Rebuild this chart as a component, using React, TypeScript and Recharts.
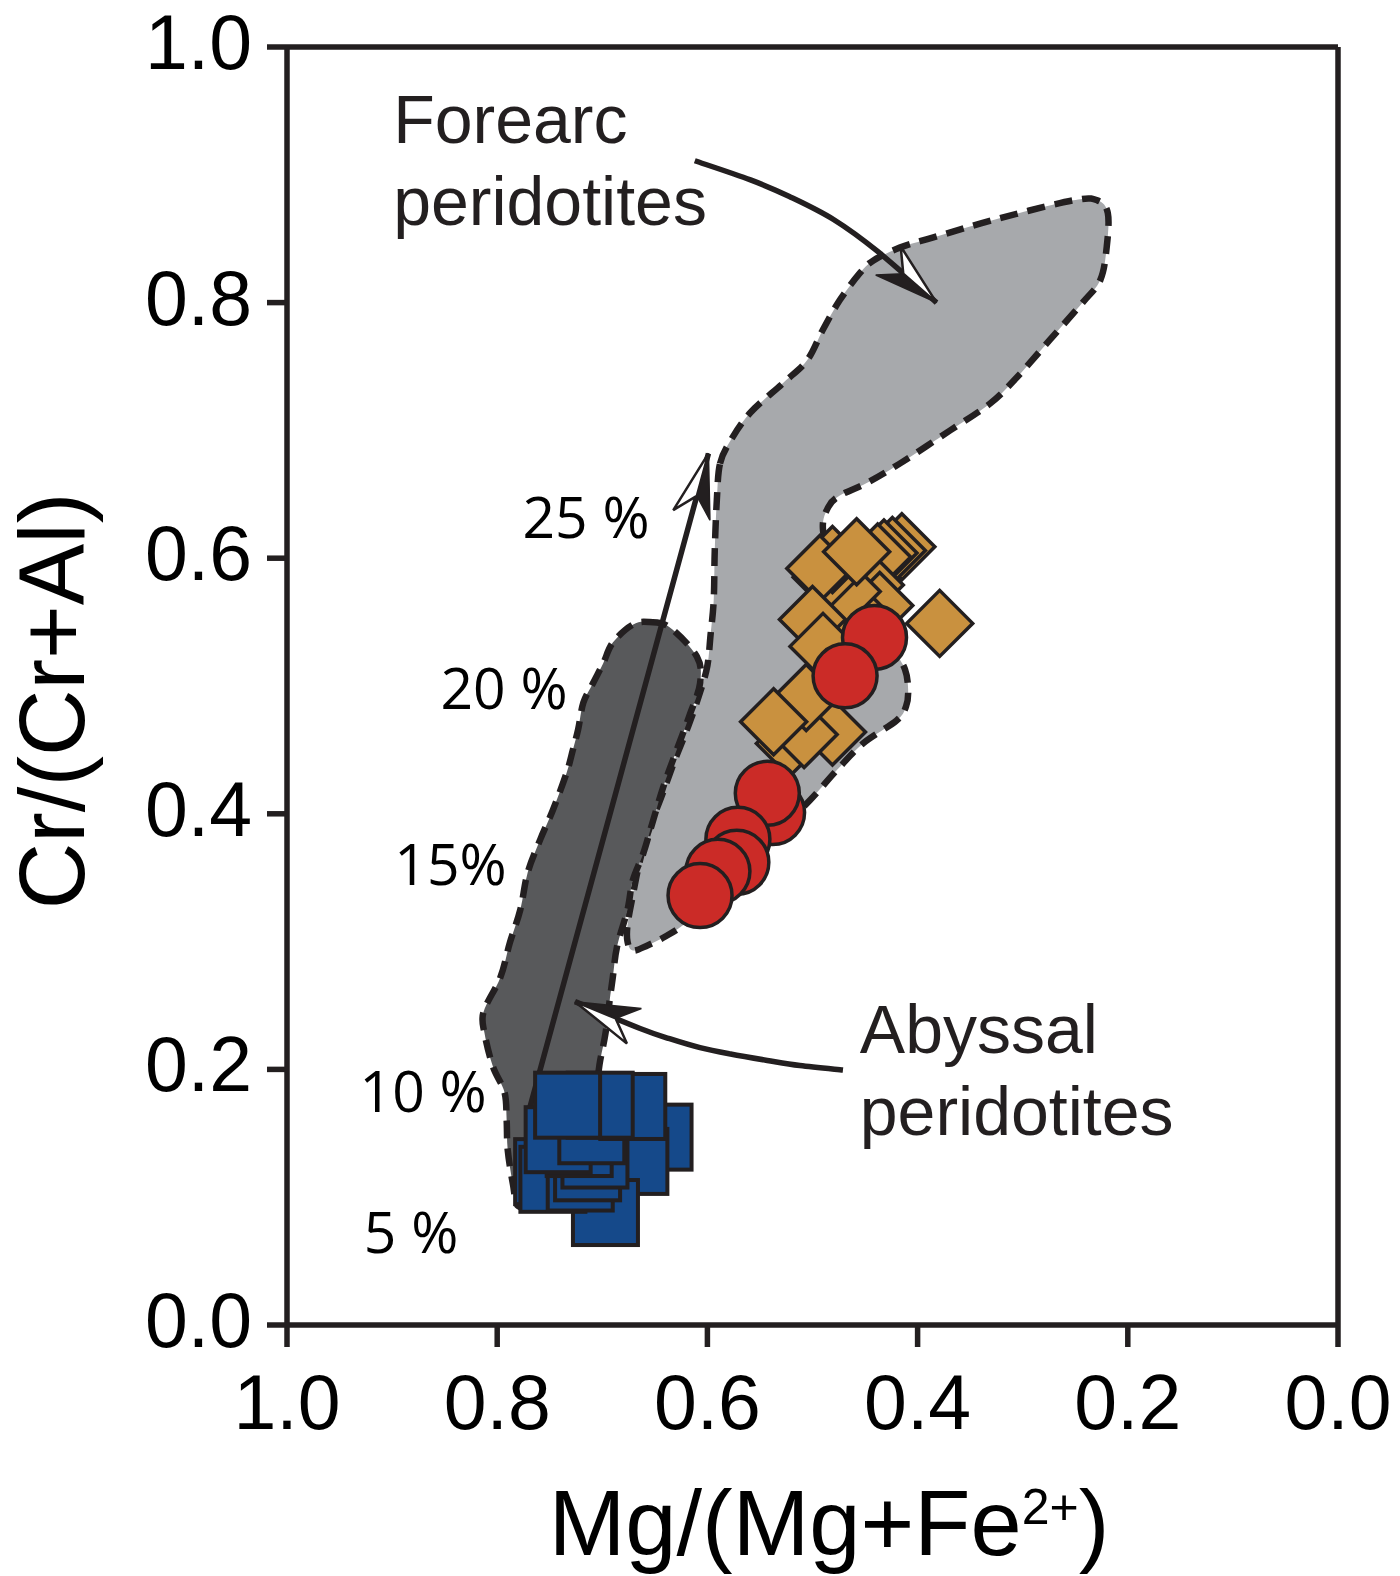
import React from 'react';
import { ScatterChart, Scatter, XAxis, YAxis, ReferenceLine } from 'recharts';

const INK = '#231f20';

const xTicks = [1.0, 0.8, 0.6, 0.4, 0.2, 0.0];
const yTicks = [0.0, 0.2, 0.4, 0.6, 0.8, 1.0];

const forearcField = [
  { x: 0.588, y: 0.674 }, { x: 0.578, y: 0.692 }, { x: 0.559, y: 0.714 }, { x: 0.528, y: 0.737 },
  { x: 0.505, y: 0.755 }, { x: 0.49, y: 0.779 }, { x: 0.474, y: 0.802 }, { x: 0.455, y: 0.823 },
  { x: 0.442, y: 0.833 }, { x: 0.417, y: 0.843 }, { x: 0.385, y: 0.851 }, { x: 0.322, y: 0.866 },
  { x: 0.252, y: 0.88 }, { x: 0.229, y: 0.88 }, { x: 0.219, y: 0.87 }, { x: 0.22, y: 0.844 },
  { x: 0.226, y: 0.818 }, { x: 0.243, y: 0.8 }, { x: 0.274, y: 0.771 }, { x: 0.305, y: 0.742 },
  { x: 0.331, y: 0.721 }, { x: 0.369, y: 0.7 }, { x: 0.417, y: 0.674 }, { x: 0.448, y: 0.659 },
  { x: 0.474, y: 0.649 }, { x: 0.485, y: 0.64 }, { x: 0.49, y: 0.622 }, { x: 0.479, y: 0.587 },
  { x: 0.445, y: 0.552 }, { x: 0.423, y: 0.528 }, { x: 0.412, y: 0.513 }, { x: 0.409, y: 0.497 },
  { x: 0.411, y: 0.484 }, { x: 0.42, y: 0.473 }, { x: 0.452, y: 0.455 }, { x: 0.477, y: 0.434 },
  { x: 0.502, y: 0.411 }, { x: 0.536, y: 0.383 }, { x: 0.569, y: 0.356 }, { x: 0.602, y: 0.329 },
  { x: 0.623, y: 0.313 }, { x: 0.64, y: 0.304 }, { x: 0.657, y: 0.297 }, { x: 0.671, y: 0.293 },
  { x: 0.676, y: 0.3 }, { x: 0.676, y: 0.313 }, { x: 0.671, y: 0.336 }, { x: 0.664, y: 0.364 },
  { x: 0.655, y: 0.389 }, { x: 0.643, y: 0.415 }, { x: 0.631, y: 0.442 }, { x: 0.618, y: 0.469 },
  { x: 0.607, y: 0.495 }, { x: 0.6, y: 0.516 }, { x: 0.597, y: 0.54 }, { x: 0.594, y: 0.567 },
  { x: 0.593, y: 0.606 }, { x: 0.591, y: 0.646 },
];

const abyssalField = [
  { x: 0.655, y: 0.55 }, { x: 0.636, y: 0.546 }, { x: 0.61, y: 0.523 }, { x: 0.607, y: 0.502 },
  { x: 0.617, y: 0.477 }, { x: 0.631, y: 0.446 }, { x: 0.642, y: 0.421 }, { x: 0.653, y: 0.391 },
  { x: 0.661, y: 0.369 }, { x: 0.671, y: 0.348 }, { x: 0.676, y: 0.325 }, { x: 0.686, y: 0.296 },
  { x: 0.69, y: 0.272 }, { x: 0.693, y: 0.254 }, { x: 0.697, y: 0.228 }, { x: 0.702, y: 0.207 },
  { x: 0.707, y: 0.184 }, { x: 0.721, y: 0.153 }, { x: 0.74, y: 0.117 }, { x: 0.764, y: 0.095 },
  { x: 0.78, y: 0.093 }, { x: 0.785, y: 0.11 }, { x: 0.79, y: 0.137 }, { x: 0.791, y: 0.16 },
  { x: 0.793, y: 0.182 }, { x: 0.804, y: 0.202 }, { x: 0.812, y: 0.228 }, { x: 0.813, y: 0.245 },
  { x: 0.797, y: 0.272 }, { x: 0.788, y: 0.299 }, { x: 0.778, y: 0.325 }, { x: 0.771, y: 0.354 },
  { x: 0.759, y: 0.38 }, { x: 0.747, y: 0.403 }, { x: 0.734, y: 0.432 }, { x: 0.728, y: 0.45 },
  { x: 0.723, y: 0.466 }, { x: 0.718, y: 0.487 }, { x: 0.709, y: 0.502 }, { x: 0.699, y: 0.518 },
  { x: 0.69, y: 0.534 }, { x: 0.671, y: 0.548 },
];

const meltingTrend = [
  { x: 0.771, y: 0.164 },
  { x: 0.599, y: 0.682 },
];

const forearcPointer = [
  { x: 0.612, y: 0.911 }, { x: 0.559, y: 0.896 }, { x: 0.522, y: 0.883 },
  { x: 0.48, y: 0.865 }, { x: 0.438, y: 0.84 }, { x: 0.382, y: 0.8 },
];

const abyssalPointer = [
  { x: 0.471, y: 0.1995 }, { x: 0.512, y: 0.203 }, { x: 0.543, y: 0.207 }, { x: 0.578, y: 0.212 },
  { x: 0.607, y: 0.217 }, { x: 0.636, y: 0.224 }, { x: 0.664, y: 0.232 }, { x: 0.726, y: 0.253 },
];

const blueSquares = [
  { x: 0.646, y: 0.147 }, { x: 0.669, y: 0.128 }, { x: 0.697, y: 0.088 }, { x: 0.752, y: 0.12 },
  { x: 0.747, y: 0.114 }, { x: 0.721, y: 0.115 }, { x: 0.714, y: 0.123 }, { x: 0.707, y: 0.133 },
  { x: 0.722, y: 0.142 }, { x: 0.742, y: 0.145 }, { x: 0.71, y: 0.152 }, { x: 0.671, y: 0.171 },
  { x: 0.702, y: 0.172 }, { x: 0.733, y: 0.172 },
];

const orangeDiamonds = [
  { x: 0.415, y: 0.609 }, { x: 0.424, y: 0.606 }, { x: 0.432, y: 0.604 }, { x: 0.438, y: 0.601 },
  { x: 0.445, y: 0.579 }, { x: 0.436, y: 0.563 }, { x: 0.453, y: 0.552 }, { x: 0.467, y: 0.574 },
  { x: 0.487, y: 0.585 }, { x: 0.481, y: 0.599 }, { x: 0.493, y: 0.592 }, { x: 0.5, y: 0.552 },
  { x: 0.49, y: 0.531 }, { x: 0.458, y: 0.605 }, { x: 0.379, y: 0.549 }, { x: 0.522, y: 0.455 },
  { x: 0.481, y: 0.464 }, { x: 0.508, y: 0.462 }, { x: 0.506, y: 0.491 }, { x: 0.537, y: 0.472 },
];

const redCircles = [
  { x: 0.441, y: 0.538 }, { x: 0.469, y: 0.508 }, { x: 0.538, y: 0.401 }, { x: 0.543, y: 0.416 },
  { x: 0.571, y: 0.38 }, { x: 0.572, y: 0.362 }, { x: 0.59, y: 0.355 }, { x: 0.607, y: 0.336 },
];

const fieldLabels = [
  { x: 0.899, y: 0.925, text: 'Forearc' },
  { x: 0.899, y: 0.861, text: 'peridotites' },
  { x: 0.455, y: 0.213, text: 'Abyssal' },
  { x: 0.455, y: 0.149, text: 'peridotites' },
];

const meltLabels = [
  { x: 0.655, y: 0.616, text: '25 %' },
  { x: 0.733, y: 0.482, text: '20 %' },
  { x: 0.791, y: 0.344, text: '15%' },
  { x: 0.81, y: 0.167, text: '10 %' },
  { x: 0.837, y: 0.056, text: '5 %' },
];

type P = { x: number; y: number };

function smoothPath(pts: P[], closed: boolean): string {
  const n = pts.length;
  if (!pts || n < 2) return '';
  const get = (i: number) => (closed ? pts[(i + n) % n] : pts[Math.max(0, Math.min(n - 1, i))]);
  let d = `M${pts[0].x},${pts[0].y}`;
  const segs = closed ? n : n - 1;
  for (let i = 0; i < segs; i++) {
    const p0 = get(i - 1), p1 = get(i), p2 = get(i + 1), p3 = get(i + 2);
    const c1x = p1.x + (p2.x - p0.x) / 6, c1y = p1.y + (p2.y - p0.y) / 6;
    const c2x = p2.x - (p3.x - p1.x) / 6, c2y = p2.y - (p3.y - p1.y) / 6;
    d += ` C${c1x},${c1y} ${c2x},${c2y} ${p2.x},${p2.y}`;
  }
  if (closed) d += ' Z';
  return d;
}

const fieldLine = (fill: string) => (props: any) => (
  <path
    d={smoothPath(props.points || [], true)}
    fill={fill}
    stroke={INK}
    strokeWidth={6.5}
    strokeDasharray="18 10"
  />
);

const arrowLine = (props: any) => {
  const pts: P[] = props.points || [];
  if (pts.length < 2) return <g />;
  const tip = pts[pts.length - 1];
  const prev = pts[pts.length - 2];
  const dx = tip.x - prev.x, dy = tip.y - prev.y;
  const len = Math.hypot(dx, dy) || 1;
  const ux = dx / len, uy = dy / len;
  const px = -uy, py = ux;
  const L = 64, W = 19, Nd = 44;
  const b1 = { x: tip.x - L * ux + W * px, y: tip.y - L * uy + W * py };
  const b2 = { x: tip.x - L * ux - W * px, y: tip.y - L * uy - W * py };
  const nn = { x: tip.x - Nd * ux, y: tip.y - Nd * uy };
  const pt = (q: P) => `${q.x},${q.y}`;
  return (
    <g>
      <path d={smoothPath(pts, false)} fill="none" stroke={INK} strokeWidth={5.5} />
      <polygon points={`${pt(tip)} ${pt(b1)} ${pt(nn)}`} fill={INK} stroke={INK} strokeWidth={1.5} />
      <polygon points={`${pt(tip)} ${pt(nn)} ${pt(b2)}`} fill="#ffffff" stroke={INK} strokeWidth={2.5} />
    </g>
  );
};

const hiddenShape = () => <g />;

const squareShape = (props: any) => (
  <rect x={props.cx - 32.5} y={props.cy - 32.5} width={65} height={65} fill="#15498a" stroke={INK} strokeWidth={4} />
);

const diamondShape = (props: any) => {
  const { cx, cy } = props;
  const r = 33;
  return (
    <polygon
      points={`${cx},${cy - r} ${cx + r},${cy} ${cx},${cy + r} ${cx - r},${cy}`}
      fill="#c9913f"
      stroke={INK}
      strokeWidth={3.5}
    />
  );
};

const circleShape = (props: any) => (
  <circle cx={props.cx} cy={props.cy} r={32} fill="#cb2b27" stroke={INK} strokeWidth={3.5} />
);

const fieldLabelShape = (props: any) => (
  <text x={props.cx} y={props.cy} fontFamily="'Liberation Sans', Arial, Helvetica, sans-serif" fontSize={68} fill={INK}>
    {props.payload.text}
  </text>
);

const meltLabelShape = (props: any) => (
  <text x={props.cx} y={props.cy} textAnchor="end" fontFamily="'Open Sans', 'Noto Sans', sans-serif" fontSize={57} fill="#000">
    {props.payload.text}
  </text>
);

const XTick = (props: any) => (
  <text x={props.x} y={props.y} dy={82} textAnchor="middle" fontFamily="'Liberation Sans', Arial, sans-serif" fontSize={77} fill="#000">
    {Number(props.payload.value).toFixed(1)}
  </text>
);

const YTick = (props: any) => (
  <text x={props.x} y={props.y} dy={22} textAnchor="end" fontFamily="'Liberation Sans', Arial, sans-serif" fontSize={77} fill="#000">
    {Number(props.payload.value).toFixed(1)}
  </text>
);

const XLabel = () => (
  <text x={829} y={1555} textAnchor="middle" fontFamily="'Liberation Sans', Arial, sans-serif" fontSize={92} fill="#000">
    <tspan>Mg/(Mg+Fe</tspan>
    <tspan fontSize={50} dy={-31}>2+</tspan>
    <tspan fontSize={92} dy={31}>)</tspan>
  </text>
);

const YLabel = () => (
  <text
    x={84}
    y={701}
    transform="rotate(-90, 84, 701)"
    textAnchor="middle"
    fontFamily="'Liberation Sans', Arial, sans-serif"
    fontSize={92}
    fill="#000"
  >
    Cr/(Cr+Al)
  </text>
);

const AXW = 5.5;
const axisStyle = { stroke: INK, strokeWidth: AXW };

export default function App() {
  return (
    <div style={{ position: 'absolute', left: 0, top: 0, width: 1400, height: 1576, background: '#ffffff' }}>
      <ScatterChart width={1400} height={1576} margin={{ top: 47, right: 62, bottom: 101, left: 137 }}>
        <XAxis
          xAxisId="b"
          type="number"
          dataKey="x"
          domain={[0, 1]}
          reversed
          ticks={xTicks}
          interval={0}
          height={150}
          tickSize={22}
          tickMargin={0}
          tick={XTick}
          stroke={INK}
          strokeWidth={AXW}
          axisLine={axisStyle}
          tickLine={axisStyle}
          label={{ content: XLabel }}
        />
        <YAxis
          yAxisId="l"
          type="number"
          dataKey="y"
          domain={[0, 1]}
          ticks={yTicks}
          interval={0}
          width={150}
          tickSize={20}
          tickMargin={15}
          tick={YTick}
          stroke={INK}
          strokeWidth={AXW}
          axisLine={axisStyle}
          tickLine={axisStyle}
          label={{ content: YLabel }}
        />
        <ReferenceLine xAxisId="b" yAxisId="l" y={1} stroke={INK} strokeWidth={AXW} />
        <ReferenceLine xAxisId="b" yAxisId="l" x={0} stroke={INK} strokeWidth={AXW} />
        <Scatter xAxisId="b" yAxisId="l" data={forearcField} shape={hiddenShape} line={fieldLine('#a7a9ac')} isAnimationActive={false} />
        <Scatter xAxisId="b" yAxisId="l" data={abyssalField} shape={hiddenShape} line={fieldLine('#58595b')} isAnimationActive={false} />
        <Scatter xAxisId="b" yAxisId="l" data={meltingTrend} shape={hiddenShape} line={arrowLine} isAnimationActive={false} />
        <Scatter xAxisId="b" yAxisId="l" data={blueSquares} shape={squareShape} isAnimationActive={false} />
        <Scatter xAxisId="b" yAxisId="l" data={orangeDiamonds} shape={diamondShape} isAnimationActive={false} />
        <Scatter xAxisId="b" yAxisId="l" data={redCircles} shape={circleShape} isAnimationActive={false} />
        <Scatter xAxisId="b" yAxisId="l" data={forearcPointer} shape={hiddenShape} line={arrowLine} isAnimationActive={false} />
        <Scatter xAxisId="b" yAxisId="l" data={abyssalPointer} shape={hiddenShape} line={arrowLine} isAnimationActive={false} />
        <Scatter xAxisId="b" yAxisId="l" data={fieldLabels} shape={fieldLabelShape} isAnimationActive={false} />
        <Scatter xAxisId="b" yAxisId="l" data={meltLabels} shape={meltLabelShape} isAnimationActive={false} />
      </ScatterChart>
    </div>
  );
}
